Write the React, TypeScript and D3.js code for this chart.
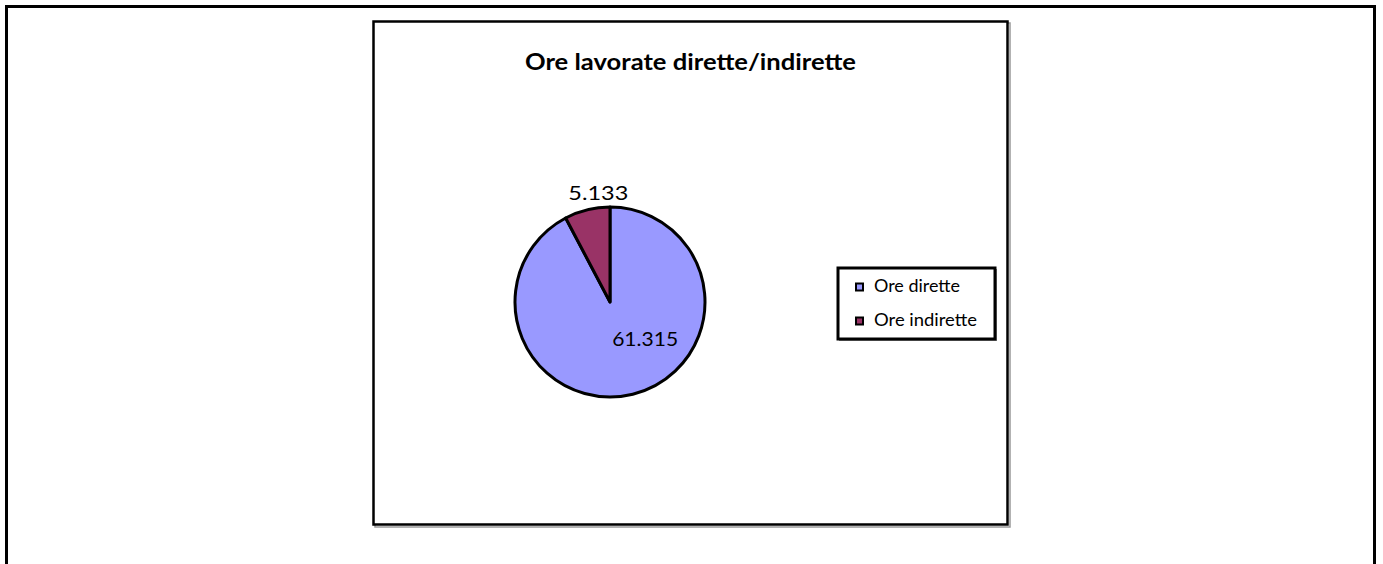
import React from "react";
import * as d3 from "d3";

const categories: string[] = ["Ore dirette", "Ore indirette"];
const values: number[] = [61315, 5133];
const valueLabels: string[] = ["61.315", "5.133"];
const colors: string[] = ["#9999FF", "#993366"];
const title = "Ore lavorate dirette/indirette";

export default function App() {
  const W = 1383;
  const H = 564;
  const cx = 610;
  const cy = 302;
  const r = 95;

  const pie = d3
    .pie<number>()
    .sort(null)
    .startAngle(0)
    .endAngle(2 * Math.PI)
    .value((d) => d);
  const arcs = pie(values);
  const arcGen = d3.arc<d3.PieArcDatum<number>>().innerRadius(0).outerRadius(r);

  // label positions: Excel-like best fit
  const labelPos = arcs.map((a, i) => {
    const mid = (a.startAngle + a.endAngle) / 2;
    if (i === 0) {
      const lr = r * 0.62;
      return [cx + Math.sin(mid) * lr + 21, cy - Math.cos(mid) * lr - 13];
    }
    const lr = r + 16;
    return [cx + Math.sin(mid) * lr + 15, cy - Math.cos(mid) * lr + 6];
  });
  const labelWidths = [66, 60];

  const legendX = 838;
  const legendY = 268;
  const legendW = 157;
  const legendH = 71;
  const legendTextW = [86, 103];

  return (
    <svg
      width={W}
      height={H}
      style={{ position: "absolute", left: 0, top: 0, background: "#fff" }}
      fontFamily="Lato, 'Open Sans', sans-serif"
    >
      <rect x={0} y={0} width={W} height={H} fill="#fff" />
      {/* outer frame */}
      <path d={`M6.5,${H + 5} V6.5 H1374.5 V${H + 5}`} fill="none" stroke="#000" strokeWidth={3} />
      {/* chart area shadow */}
      <rect x={375} y={23} width={635} height={504} fill="none" stroke="#999" strokeWidth={1.5} />
      {/* chart area */}
      <rect x={373.5} y={21.5} width={634} height={503} fill="#fff" stroke="#000" strokeWidth={2.5} />
      <text
        x={690.5}
        y={70}
        textAnchor="middle"
        fontWeight="bold"
        fontSize={23}
        fill="#000"
        textLength={331}
        lengthAdjust="spacingAndGlyphs"
      >
        {title}
      </text>
      <g transform={`translate(${cx},${cy})`}>
        {arcs.map((a, i) => (
          <path key={categories[i]} d={arcGen(a) || ""} fill={colors[i]} stroke="#000" strokeWidth={3} strokeLinejoin="round" />
        ))}
      </g>
      {arcs.map((a, i) => (
        <text
          key={"l" + i}
          x={labelPos[i][0]}
          y={labelPos[i][1]}
          textAnchor="middle"
          fontSize={20}
          fill="#000"
          textLength={labelWidths[i]}
          lengthAdjust="spacingAndGlyphs"
        >
          {valueLabels[i]}
        </text>
      ))}
      {/* legend */}
      <rect x={legendX + 1.5} y={legendY + 1.5} width={legendW} height={legendH} fill="none" stroke="#888" strokeWidth={1} />
      <rect x={legendX} y={legendY} width={legendW} height={legendH} fill="#fff" stroke="#000" strokeWidth={3} />
      {categories.map((c, i) => (
        <g key={"lg" + i} transform={`translate(${legendX + 18},${legendY + 19 + i * 34})`}>
          <rect x={0} y={-3.5} width={7} height={7} fill={colors[i]} stroke="#000" strokeWidth={2} />
          <text x={18} y={5} fontSize={17} fill="#000" textLength={legendTextW[i]} lengthAdjust="spacingAndGlyphs">
            {c}
          </text>
        </g>
      ))}
    </svg>
  );
}
